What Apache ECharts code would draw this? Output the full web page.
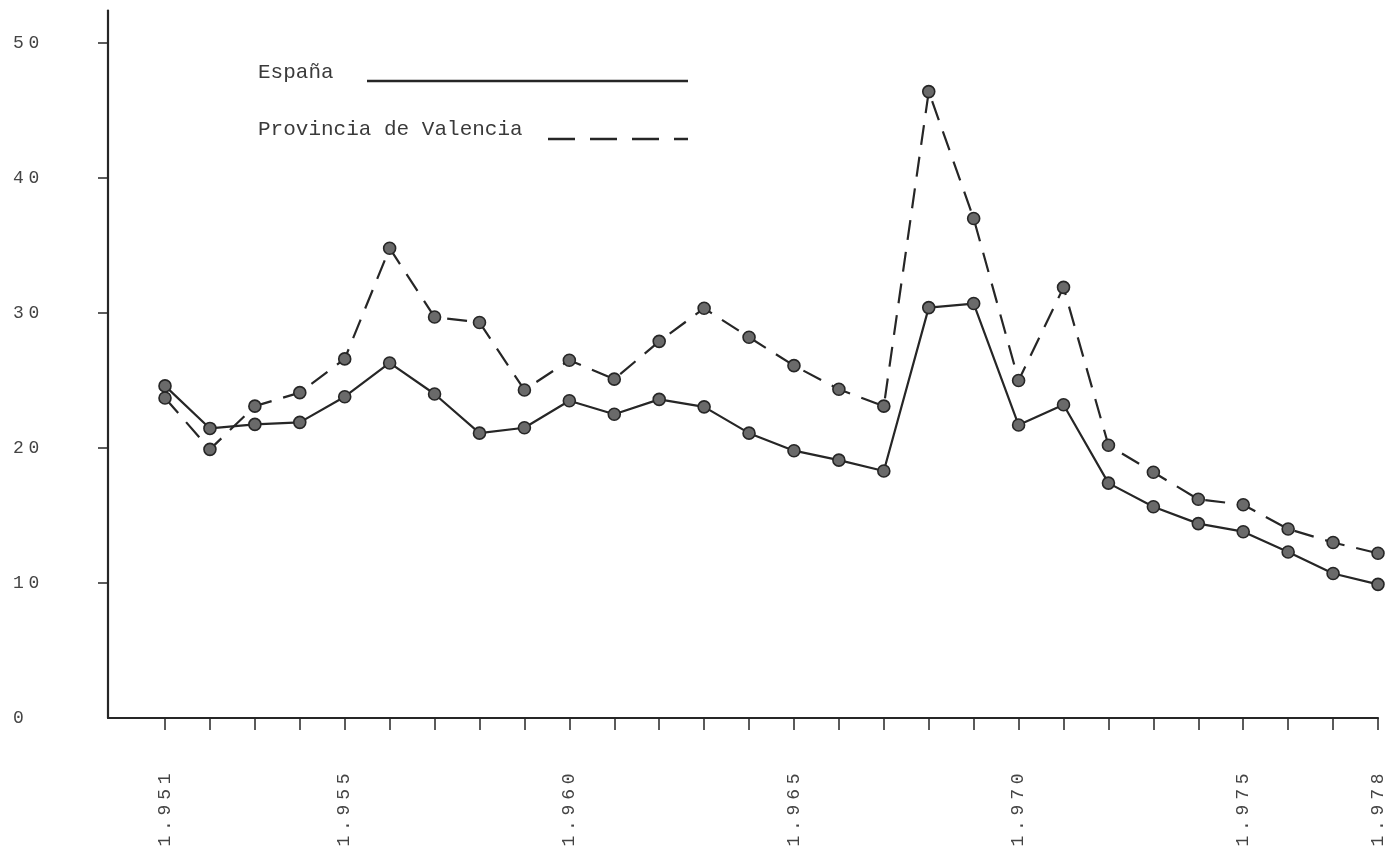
<!DOCTYPE html>
<html>
<head>
<meta charset="utf-8">
<script src="https://cdn.jsdelivr.net/npm/echarts@6/dist/echarts.min.js"></script>
<style>
  html, body { margin: 0; padding: 0; background: #fff; }
  #chart { width: 1388px; height: 853px; }
</style>
</head>
<body>
<div id="chart"></div>
<script>
const years = [1951, 1952, 1953, 1954, 1955, 1956, 1957, 1958, 1959, 1960,
               1961, 1962, 1963, 1964, 1965, 1966, 1967, 1968, 1969, 1970,
               1971, 1972, 1973, 1974, 1975, 1976, 1977, 1978]
const yearLabels = [1951, 1955, 1960, 1965, 1970, 1975, 1978]
const yTicks = [10, 20, 30, 40, 50]
const yLabels = [0, 10, 20, 30, 40, 50]

const espana = [24.6, 21.45, 21.75, 21.9, 23.8, 26.3, 24.0, 21.1, 21.5, 23.5,
                22.5, 23.6, 23.05, 21.1, 19.8, 19.1, 18.3, 30.4, 30.7, 21.7,
                23.2, 17.4, 15.65, 14.4, 13.8, 12.3, 10.7, 9.9]
const valencia = [23.7, 19.9, 23.1, 24.1, 26.6, 34.8, 29.7, 29.3, 24.3, 26.5,
                  25.1, 27.9, 30.35, 28.2, 26.1, 24.35, 23.1, 46.4, 37.0, 25.0,
                  31.9, 20.2, 18.2, 16.2, 15.8, 14.0, 13.0, 12.2]

const ink = '#262626'
const mono = 'Liberation Mono'

// typewriter look: every character in its own fixed box
function spaced(str) {
    return str.split('').map(c => '{c|' + c + '}').join('')
}
const richChars = {
    c: { width: 15.6, align: 'center', fontSize: 18, fontFamily: mono, color: '#444' }
}

function pairs(vals) {
    return vals.map((v, i) => [years[i], v])
}

const chart = echarts.init(document.getElementById('chart'))

let option = {
    backgroundColor: '#fff',
    animation: false,
    grid: { left: 108, right: 10, top: 10.6, bottom: 135 },
    xAxis: {
        type: 'value',
        min: 1949.731,
        max: 1978,
        splitLine: { show: false },
        axisLine: { show: true, lineStyle: { color: ink, width: 2.2 } },
        axisTick: { show: true, customValues: years, length: 12, lineStyle: { color: ink, width: 1.5 } },
        axisLabel: {
            customValues: yearLabels,
            rotate: 90,
            margin: 53,
            formatter: v => spaced('1.' + String(v).slice(1)),
            rich: richChars
        }
    },
    yAxis: {
        type: 'value',
        min: 0,
        max: 52.4,
        splitLine: { show: false },
        axisLine: { show: true, lineStyle: { color: ink, width: 2.2 } },
        axisTick: { show: true, customValues: yTicks, length: 10, lineStyle: { color: ink, width: 1.5 } },
        axisLabel: {
            customValues: yLabels,
            align: 'left',
            margin: 97.5,
            formatter: v => spaced(String(v)),
            rich: richChars
        }
    },
    graphic: [
        { type: 'text', left: 258, top: 62, style: { text: 'España', font: '21px "Liberation Mono"', fill: '#3a3a3a' } },
        { type: 'line', shape: { x1: 367, y1: 81, x2: 688, y2: 81 }, style: { stroke: ink, lineWidth: 2.5 } },
        { type: 'text', left: 258, top: 119, style: { text: 'Provincia de Valencia', font: '21px "Liberation Mono"', fill: '#3a3a3a' } },
        { type: 'line', shape: { x1: 548, y1: 139, x2: 688, y2: 139 }, style: { stroke: ink, lineWidth: 2.5, lineDash: [27, 15] } }
    ],
    series: [
        {
            name: 'Provincia de Valencia',
            type: 'line',
            data: pairs(valencia),
            symbol: 'circle',
            symbolSize: 12,
            lineStyle: { color: ink, width: 2.2, type: [20, 12] },
            itemStyle: { color: '#6a6a6a', borderColor: ink, borderWidth: 1.6 }
        },
        {
            name: 'España',
            type: 'line',
            data: pairs(espana),
            symbol: 'circle',
            symbolSize: 12,
            lineStyle: { color: ink, width: 2.2 },
            itemStyle: { color: '#6a6a6a', borderColor: ink, borderWidth: 1.6 }
        }
    ]
}

chart.setOption(option)
</script>
</body>
</html>
